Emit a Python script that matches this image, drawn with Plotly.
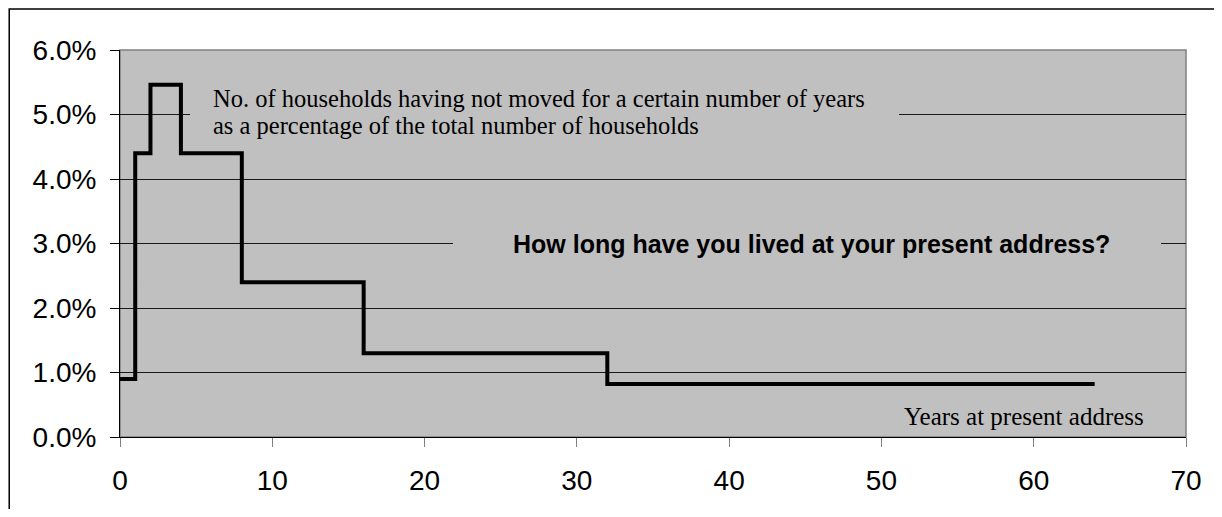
import plotly.graph_objects as go

# Step boundaries (years) and share of households per interval
years = [0, 1, 2, 4, 8, 16, 32, 64]
shares = [0.009, 0.044, 0.0546, 0.044, 0.024, 0.013, 0.0082]

y_tick_vals = [0, 0.01, 0.02, 0.03, 0.04, 0.05, 0.06]
x_tick_vals = [0, 10, 20, 30, 40, 50, 60, 70]

step_x = years
step_y = shares + [shares[-1]]

fig = go.Figure()
fig.add_trace(go.Scatter(
    x=step_x, y=step_y, mode="lines", line_shape="hv",
    line=dict(color="black", width=4), showlegend=False, hoverinfo="skip"))

# page has an 8px body margin; figure sized to fit the 1222x517 window
OFF = 8
W, H = 1222 - 2 * OFF, 517 - 2 * OFF
PL, PR, PT, PB = 120, 1193, 50, 437   # plot area in page pixels
L, T = PL - OFF, PT - OFF
R, B = (OFF + W) - PR, (OFF + H) - PB
pw, ph = PR - PL, PB - PT

def px(x):
    return (x - PL) / pw

def py(y):
    return (PB - y) / ph

GRAY = "#C0C0C0"
serif = dict(family="Liberation Serif", size=24.5, color="black")

def mask(x0, x1, y0, y1):
    return dict(xref="paper", yref="paper", x=px(x0), y=py(y0),
                xanchor="left", yanchor="top", text=" ", showarrow=False,
                bgcolor=GRAY, borderpad=0, borderwidth=0,
                width=x1 - x0, height=y1 - y0)

fig.update_layout(
    width=W, height=H,
    margin=dict(l=L, r=R, t=T, b=B),
    paper_bgcolor="white",
    plot_bgcolor=GRAY,
    font=dict(family="Arial", size=28, color="black"),
    xaxis=dict(range=[0, 70], tickvals=x_tick_vals, ticks="outside", ticklen=9,
               tickcolor="#808080", showgrid=False, zeroline=False,
               showline=True, linecolor="black", linewidth=1,
               tickfont=dict(family="Arial", size=28), ticklabelstandoff=9),
    yaxis=dict(range=[0, 0.06], tickvals=y_tick_vals, tickformat=".1%",
               ticks="outside", ticklen=9, tickcolor="black",
               showgrid=True, gridcolor="#1a1a1a", gridwidth=1, zeroline=False,
               showline=True, linecolor="black", linewidth=1,
               tickfont=dict(family="Arial", size=28), ticklabelstandoff=8),
    shapes=[
        # plot area frame
        dict(type="rect", xref="paper", yref="paper", x0=0, x1=1, y0=0, y1=1,
             line=dict(color="#808080", width=1.5), layer="below"),
        # outer chart border
        dict(type="rect", xref="paper", yref="paper",
             x0=px(8.5), x1=px(1260), y0=py(560), y1=py(9),
             line=dict(color="black", width=1.5)),
    ],
    annotations=[
        mask(190, 899, 84, 140),
        mask(455, 1163, 229, 258),
        dict(xref="paper", yref="paper", x=px(212), y=py(99), xanchor="left", yanchor="middle",
             text="No. of households having not moved for a certain number of years",
             showarrow=False, font=serif),
        dict(xref="paper", yref="paper", x=px(212), y=py(125), xanchor="left", yanchor="middle",
             text="as a percentage of the total number of households",
             showarrow=False, font=serif),
        dict(xref="paper", yref="paper", x=px(514), y=py(244), xanchor="left", yanchor="middle",
             text="<b>How long have you lived at your present address?</b>",
             showarrow=False, font=dict(family="Arial", size=25, color="black")),
        dict(xref="paper", yref="paper", x=px(1153), y=py(416), xanchor="right", yanchor="middle",
             text="Years at present address",
             showarrow=False, font=dict(family="Liberation Serif", size=25, color="black")),
    ],
)

fig.write_html("out.html")
